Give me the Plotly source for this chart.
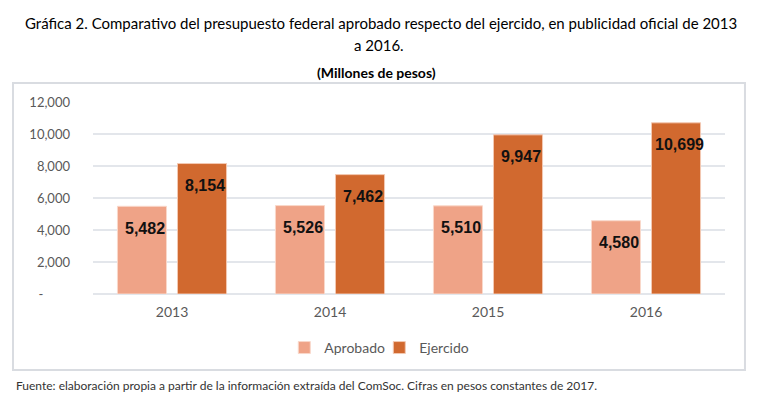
import plotly.graph_objects as go

years = ["2013", "2014", "2015", "2016"]
aprobado = [5482, 5526, 5510, 4580]
ejercido = [8154, 7462, 9947, 10699]
y_tickvals = [0, 2000, 4000, 6000, 8000, 10000, 12000]
y_ticktext = ["-" + "\u00a0" * 8, "2,000", "4,000", "6,000", "8,000", "10,000", "12,000"]

c_apr = "#EFA387"
c_eje = "#D1692F"
FONT = "Lato"

fig = go.Figure()
fig.add_trace(go.Bar(name="Aprobado", x=years, y=aprobado,
                     marker=dict(color=c_apr, line=dict(color="#F9D8CA", width=1))))
fig.add_trace(go.Bar(name="Ejercido", x=years, y=ejercido,
                     marker=dict(color=c_eje, line=dict(color="#F3C9B3", width=1))))

annotations = []
for series, shift in ((aprobado, -27), (ejercido, 33)):
    for i, v in enumerate(series):
        annotations.append(dict(x=i, y=v, xref="x", yref="y", text=f"{v:,}", showarrow=False,
                                xshift=shift, yshift=-22, yanchor="middle",
                                font=dict(family="Liberation Sans", size=16, color="#111111", weight="bold")))

annotations += [
    dict(text="Gráfica 2. Comparativo del presupuesto federal aprobado respecto del ejercido, en publicidad oficial de 2013",
         xref="paper", yref="paper", x=0.456, y=1.411, showarrow=False, xanchor="center", yanchor="middle",
         font=dict(family=FONT, size=15, color="#000000")),
    dict(text="a 2016.", xref="paper", yref="paper", x=0.453, y=1.297, showarrow=False, xanchor="center",
         yanchor="middle", font=dict(family=FONT, size=15, color="#000000")),
    dict(text="(Millones de pesos)", xref="paper", yref="paper", x=0.448, y=1.156, showarrow=False,
         xanchor="center", yanchor="middle", font=dict(family=FONT, size=14, color="#000000", weight="bold")),
    dict(text="Fuente: elaboración propia a partir de la información extraída del ComSoc. Cifras en pesos constantes de 2017.",
         xref="paper", yref="paper", x=-0.125, y=-0.479, showarrow=False, xanchor="left", yanchor="middle",
         font=dict(family=FONT, size=12, color="#333333")),
]

# page body has an 8px margin, so the figure is drawn 8px smaller and offset
fig.update_layout(
    width=750, height=388,
    margin=dict(l=85, r=33, t=94, b=102, autoexpand=False),
    paper_bgcolor="white", plot_bgcolor="white",
    barmode="group", bargap=0.24, bargroupgap=0.183,
    font=dict(family=FONT, size=13, color="#595959"),
    showlegend=True,
    legend=dict(orientation="h", x=0.453, y=-0.281, xanchor="center", yanchor="middle",
                font=dict(family=FONT, size=14, color="#595959"), itemwidth=30,
                entrywidth=50, traceorder="normal"),
    annotations=annotations,
    shapes=[dict(type="rect", xref="paper", yref="paper", x0=-0.1266, x1=1.0316, y0=-0.396, y1=1.099,
                 line=dict(color="#D9DCE1", width=2), fillcolor="rgba(0,0,0,0)", layer="below")],
)
fig.update_xaxes(type="category", range=[-0.5, len(years) - 0.5], showgrid=False, showline=False, ticks="",
                 ticklabelstandoff=8, tickfont=dict(size=14, color="#595959"))
fig.update_yaxes(range=[0, 12000], tickvals=y_tickvals, ticktext=y_ticktext, showgrid=True,
                 gridcolor="#E3E6EB", gridwidth=1.5, zeroline=True, zerolinecolor="#E3E6EB", zerolinewidth=1.5,
                 showline=False, ticks="", ticklabelstandoff=22, tickfont=dict(size=13, color="#595959"))

fig.write_html("out.html")
